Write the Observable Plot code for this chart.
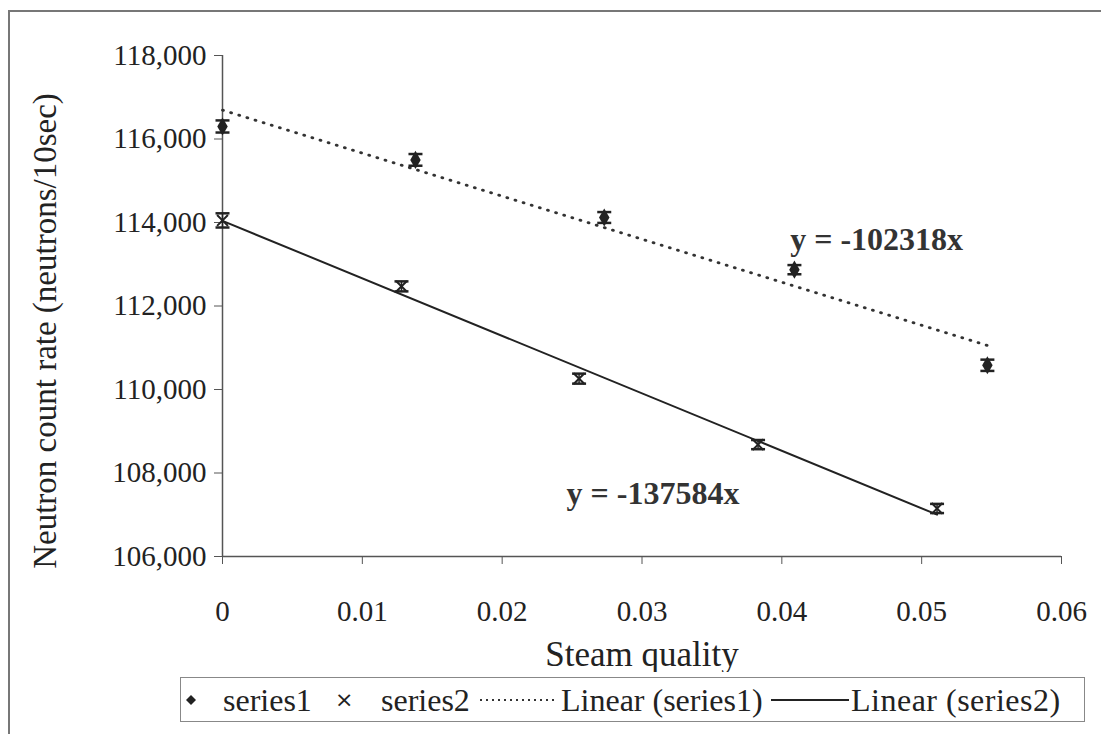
<!DOCTYPE html>
<html>
<head>
<meta charset="utf-8">
<script src="https://cdn.jsdelivr.net/npm/d3@7"></script>
<script src="https://cdn.jsdelivr.net/npm/@observablehq/plot@0.6"></script>
<style>
  html, body { margin: 0; padding: 0; background: #fff; }
  body { width: 1101px; height: 734px; position: relative; overflow: hidden; font-family: "Liberation Serif", "Times New Roman", serif; }
  #frame { position: absolute; left: 8px; top: 10px; width: 1200px; height: 800px; border-top: 2px solid #777; border-left: 2px solid #777; }
  #chart { position: absolute; left: 0; top: 0; }
  #legend { position: absolute; left: 180px; top: 677px; width: 905px; height: 45px; border: 1.5px solid #888; box-sizing: border-box;
            font-size: 32px; color: #222; white-space: nowrap; }
  #legend > span { position: absolute; top: 50%; transform: translateY(-50%); line-height: 1; }
</style>
</head>
<body>
<div id="frame"></div>
<div id="chart"></div>
<div id="legend"></div>
<script>
// ---- data ----
const series1X = [0, 0.0138, 0.0273, 0.0409, 0.0547];
const series1Y = [116300, 115500, 114120, 112870, 110580];
const series1Err = [145, 140, 130, 110, 135];

const series2X = [0, 0.0128, 0.0255, 0.0383, 0.0511];
const series2Y = [114050, 112470, 110260, 108680, 107150];
const series2Err = [170, 120, 120, 110, 110];

const xTicks = [0, 0.01, 0.02, 0.03, 0.04, 0.05, 0.06];
const yTicks = [106000, 108000, 110000, 112000, 114000, 116000, 118000];

const eqLabels = ["y = -102318x", "y = -137584x"];
const eqX = [0.0406, 0.0246];
const eqY = [113580, 107500];

const xTitle = "Steam quality";
const yTitle = "Neutron count rate (neutrons/10sec)";
const legendLabels = ["series1", "series2", "Linear (series1)", "Linear (series2)"];

// ---- build tables ----
const d1 = series1X.map((x, i) => ({x, y: series1Y[i], e: series1Err[i]}));
const d2 = series2X.map((x, i) => ({x, y: series2Y[i], e: series2Err[i]}));
const eqs = eqLabels.map((t, i) => ({t, x: eqX[i], y: eqY[i]}));

const cap = {draw(ctx) { ctx.moveTo(-7, 0); ctx.lineTo(7, 0); }};
const ink = "#222";

const W = 1101, H = 672;
const plot = Plot.plot({
  width: W, height: H,
  marginLeft: 222, marginRight: 40, marginTop: 55, marginBottom: H - 556,
  style: {fontFamily: "'Liberation Serif', 'Times New Roman', serif", fontSize: "29px", color: "#222", background: "transparent"},
  x: {domain: [0, 0.06]},
  y: {domain: [106000, 118000]},
  marks: [
    Plot.ruleX([0], {stroke: "#555", strokeWidth: 1.5}),
    Plot.ruleY([106000], {stroke: "#555", strokeWidth: 1.5}),
    Plot.axisY({ticks: yTicks, tickFormat: d3.format(","), tickSize: 8, tickPadding: 8, label: null, stroke: "#555"}),
    Plot.axisX({ticks: xTicks, tickFormat: d => d === 0 ? "0" : d3.format(".2f")(d), tickSize: 8, tickPadding: 36, label: null, stroke: "#555"}),
    Plot.text([yTitle], {frameAnchor: "left", textAnchor: "middle", rotate: -90, dx: -177, dy: 25, fontSize: 33}),
    Plot.text([xTitle], {frameAnchor: "bottom", textAnchor: "middle", dy: 109, fontSize: 35}),
    // trend lines
    Plot.linearRegressionY(d1, {x: "x", y: "y", ci: 0, stroke: "#333", strokeWidth: 2.8, strokeDasharray: "1,7.5", strokeLinecap: "round"}),
    Plot.linearRegressionY(d2, {x: "x", y: "y", ci: 0, stroke: ink, strokeWidth: 2}),
    // error bars
    Plot.ruleX(d1, {x: "x", y1: d => d.y - d.e, y2: d => d.y + d.e, stroke: ink, strokeWidth: 2}),
    Plot.dot(d1, {x: "x", y: d => d.y - d.e, symbol: cap, r: 5, fill: "none", stroke: ink, strokeWidth: 2.5}),
    Plot.dot(d1, {x: "x", y: d => d.y + d.e, symbol: cap, r: 5, fill: "none", stroke: ink, strokeWidth: 2.5}),
    Plot.ruleX(d2, {x: "x", y1: d => d.y - d.e, y2: d => d.y + d.e, stroke: ink, strokeWidth: 1.5}),
    Plot.dot(d2, {x: "x", y: d => d.y - d.e, symbol: cap, r: 5, fill: "none", stroke: ink, strokeWidth: 2.5}),
    Plot.dot(d2, {x: "x", y: d => d.y + d.e, symbol: cap, r: 5, fill: "none", stroke: ink, strokeWidth: 2.5}),
    // markers
    Plot.dot(d1, {x: "x", y: "y", symbol: "diamond", r: 5.5, fill: ink}),
    Plot.dot(d2, {x: "x", y: "y", symbol: "times", r: 5, stroke: ink, strokeWidth: 2}),
    // equations
    Plot.text(eqs, {x: "x", y: "y", text: "t", textAnchor: "start", fontWeight: "bold", fontSize: 32, fill: "#333"})
  ]
});
document.getElementById("chart").appendChild(plot);

// ---- legend (positions relative to the legend box) ----
const lg = document.getElementById("legend");
lg.innerHTML = `
  <span style="left:4px"><svg width="12" height="12" style="display:block"><path d="M6 1 L11 6 L6 11 L1 6Z" fill="#222"/></svg></span>
  <span style="left:42px">${legendLabels[0]}</span>
  <span style="left:154px;font-family:'DejaVu Sans';font-size:22px">×</span>
  <span style="left:200px">${legendLabels[1]}</span>
  <span style="left:298px"><svg width="77" height="10" style="display:block"><line x1="1" y1="5" x2="77" y2="5" stroke="#333" stroke-width="2" stroke-dasharray="2,4"/></svg></span>
  <span style="left:380px">${legendLabels[2]}</span>
  <span style="left:590px"><svg width="78" height="10" style="display:block"><line x1="0" y1="5" x2="78" y2="5" stroke="#222" stroke-width="2"/></svg></span>
  <span style="left:670px;letter-spacing:0.5px">${legendLabels[3]}</span>
`;
</script>
</body>
</html>
